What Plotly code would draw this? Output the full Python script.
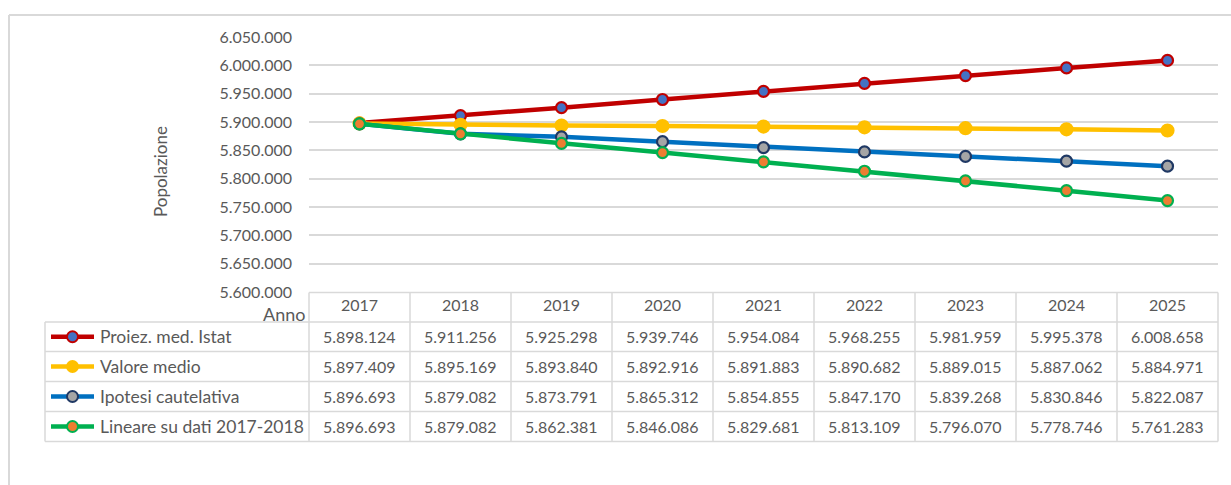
import plotly.graph_objects as go

years = ["2017", "2018", "2019", "2020", "2021", "2022", "2023", "2024", "2025"]
series_names = ["Proiez. med. Istat", "Valore medio", "Ipotesi cautelativa", "Lineare su dati 2017-2018"]
istat = [5898124, 5911256, 5925298, 5939746, 5954084, 5968255, 5981959, 5995378, 6008658]
medio = [5897409, 5895169, 5893840, 5892916, 5891883, 5890682, 5889015, 5887062, 5884971]
cautelativa = [5896693, 5879082, 5873791, 5865312, 5854855, 5847170, 5839268, 5830846, 5822087]
lineare = [5896693, 5879082, 5862381, 5846086, 5829681, 5813109, 5796070, 5778746, 5761283]
y_range = [5600000, 6050000]

series_values = [istat, medio, cautelativa, lineare]
line_colors = ["#C00000", "#FFC000", "#0070C0", "#00B050"]
marker_fill = ["#4472C4", "#FFC000", "#A5A5A5", "#ED7D31"]
marker_edge = ["#C00000", "#FFC000", "#1F3864", "#00B050"]
marker_size = [11, 12, 11, 11]

W, H = 1231, 485
PL, PR = 309, 1218      # plot area pixel edges
PT, PB = 37, 292        # plot area pixel edges
TXT = "#595959"
GRID = "#D9D9D9"
FONT = "Lato"


def px(x):
    return (x - PL) / (PR - PL)


def py(y):
    return (PB - y) / (PB - PT)


def fmt(v):
    return f"{v:,}".replace(",", ".")


fig = go.Figure()
for name, vals, lc, mf, me, ms in zip(series_names, series_values, line_colors, marker_fill, marker_edge, marker_size):
    fig.add_trace(go.Scatter(
        x=years, y=vals, name=name, mode="lines+markers",
        line=dict(color=lc, width=4.5),
        marker=dict(size=ms, color=mf, line=dict(color=me, width=2.2)),
        showlegend=False, cliponaxis=False,
    ))

shapes = []
line_style = dict(color=GRID, width=1.5)
# outer chart frame (top and left edges visible)
shapes.append(dict(type="line", xref="paper", yref="paper", x0=px(9), x1=px(W + 5), y0=py(15), y1=py(15), line=dict(color=GRID, width=2)))
shapes.append(dict(type="line", xref="paper", yref="paper", x0=px(9), x1=px(9), y0=py(15), y1=py(H + 5), line=dict(color=GRID, width=2)))

# data table grid
row_edges = [322, 351.5, 381.5, 411.5, 441.5]
shapes.append(dict(type="line", xref="paper", yref="paper", x0=0, x1=1, y0=py(PB + 0.5), y1=py(PB + 0.5), line=line_style))
for ry in row_edges:
    shapes.append(dict(type="line", xref="paper", yref="paper", x0=px(45), x1=1, y0=py(ry), y1=py(ry), line=line_style))
n = len(years)
for k in range(n + 1):
    shapes.append(dict(type="line", xref="paper", yref="paper", x0=k / n, x1=k / n, y0=py(PB + 0.5), y1=py(row_edges[-1]), line=line_style))
shapes.append(dict(type="line", xref="paper", yref="paper", x0=px(45), x1=px(45), y0=py(row_edges[0]), y1=py(row_edges[-1]), line=line_style))

annotations = []
for i, (name, vals) in enumerate(zip(series_names, series_values)):
    cy = (row_edges[i] + row_edges[i + 1]) / 2
    # legend key
    shapes.append(dict(type="line", xref="paper", yref="paper", x0=px(51), x1=px(94), y0=py(cy), y1=py(cy),
                       line=dict(color=line_colors[i], width=4.5)))
    shapes.append(dict(type="circle", xref="paper", yref="paper", xsizemode="pixel", ysizemode="pixel",
                       xanchor=px(72.5), yanchor=py(cy), x0=-5.5, x1=5.5, y0=-5.5, y1=5.5,
                       fillcolor=marker_fill[i], line=dict(color=marker_edge[i], width=2)))
    annotations.append(dict(xref="paper", yref="paper", x=px(98), y=py(cy), text=name, showarrow=False,
                            xanchor="left", yanchor="middle", font=dict(family=FONT, size=17.5, color=TXT)))
    for j, v in enumerate(vals):
        # category axis: annotation x is the category's serial index
        annotations.append(dict(xref="x", yref="paper", x=j, y=py(cy), text=fmt(v), showarrow=False,
                                xanchor="center", yanchor="middle", font=dict(family=FONT, size=16, color=TXT)))

annotations.append(dict(xref="paper", yref="paper", x=px(307), y=py(314), text="Anno", showarrow=False,
                        xanchor="right", yanchor="middle", font=dict(family=FONT, size=18, color=TXT)))
annotations.append(dict(xref="paper", yref="paper", x=px(160), y=py(172), text="Popolazione", showarrow=False,
                        textangle=-90, xanchor="center", yanchor="middle", font=dict(family=FONT, size=17, color=TXT)))

fig.update_layout(
    width=W, height=H,
    margin=dict(l=PL, r=W - PR, t=PT, b=H - PB),
    paper_bgcolor="white", plot_bgcolor="white",
    separators=",.",
    font=dict(family=FONT, size=16, color=TXT),
    shapes=shapes, annotations=annotations,
    xaxis=dict(type="category", range=[-0.5, n - 0.5], showgrid=False, zeroline=False, showline=False,
               ticks="", ticklabelstandoff=2, tickfont=dict(family=FONT, size=16, color=TXT), fixedrange=True),
    yaxis=dict(range=y_range, dtick=50000, tickformat=",d", showgrid=True, gridcolor=GRID, gridwidth=1.5,
               zeroline=False, showline=False, ticks="", ticklabelstandoff=16,
               tickfont=dict(family=FONT, size=16, color=TXT), fixedrange=True),
)

fig.write_html("out.html", config={"displayModeBar": False},
               post_script="document.body.style.margin='0';")
